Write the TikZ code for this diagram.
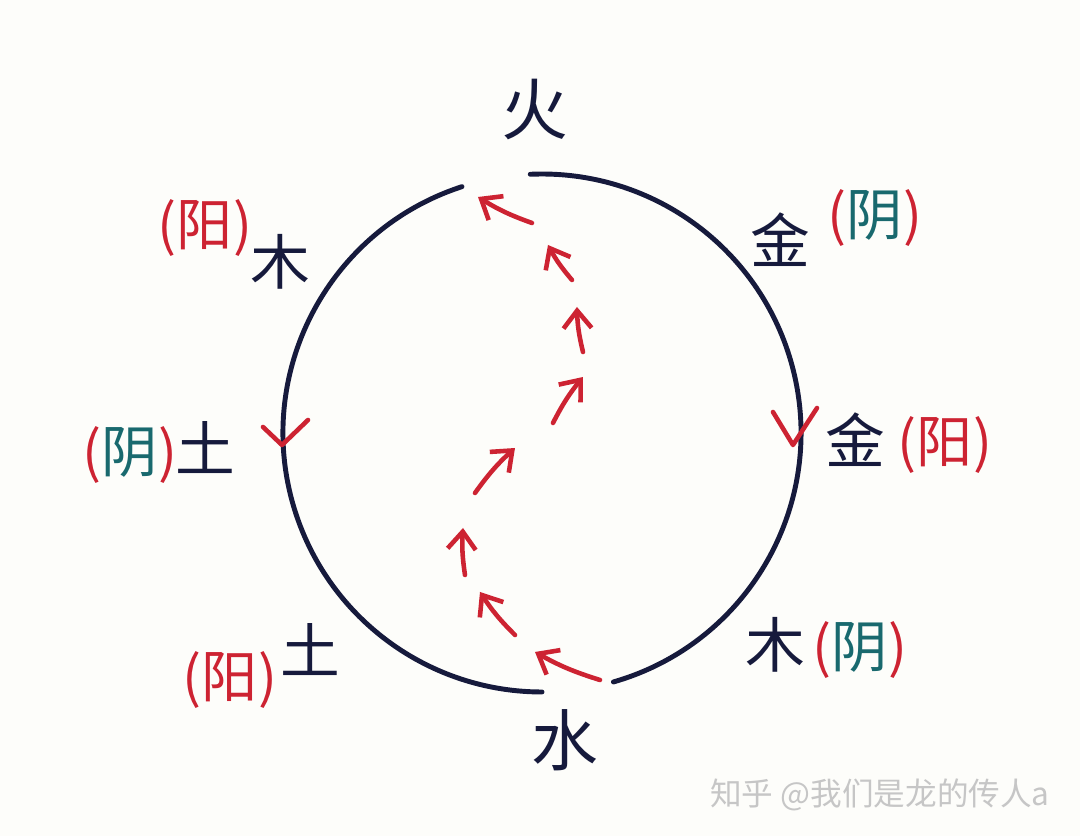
\documentclass[tikz,border=0pt]{standalone}
\usepackage{fontspec}
\setmainfont{Noto Sans CJK SC}
\usetikzlibrary{arrows.meta}
\definecolor{ink}{RGB}{22,26,60}
\definecolor{redink}{RGB}{205,35,50}
\definecolor{tealink}{RGB}{25,105,110}
\definecolor{paper}{RGB}{253,253,250}

\begin{document}
\begin{tikzpicture}[x=0.1mm, y=0.1mm, >={Straight Barb[length=5pt,width=8pt]},
  elem/.style={text=ink, font=\fontsize{17}{17}\selectfont},
  bigelem/.style={text=ink, font=\fontsize{19}{19}\selectfont},
  tag/.style={text=redink, font=\fontsize{16}{16}\selectfont},
  ring/.style={draw=ink, line width=1.4pt, line cap=round},
  flow/.style={draw=redink, line width=1.3pt, line cap=round},
  vee/.style={draw=redink, line width=1.3pt, line cap=round, line join=round}]
  \fill[paper] (0,0) rectangle (1080,836);
  \useasboundingbox (0,0) rectangle (1080,836);

  % the circle, open at the top and at the bottom
  \coordinate (c) at (542,403);
  \draw[ring] (c) ++(108:259) arc (108:270:259);
  \draw[ring] (c) ++(-74:259) arc (-74:92.6:259);
  \draw[vee] (263,409) -- (282,391) -- (308,416);
  \draw[vee] (773,424) -- (793,391) -- (817,428);

  % red arrows from water up to fire
  \foreach \tx/\ty/\hx/\hy in {600/156/535/184, 515/201/480/244, 465/261/463/308,
      475/343/515/388, 553/413/583/459, 583/484/577/529, 572/556/548/591, 532/613/478/639}
    \draw[flow, ->] (\tx,\ty) to[bend left=6] (\hx,\hy);

  % elements
  \node[bigelem] (fire) at (535,726) {火};
  \node[bigelem] (water) at (565,96) {水};
  \node[elem] (metalA) at (780,596) {金};
  \node[elem] (metalB) at (855,396) {金};
  \node[elem] (woodA) at (280,574) {木};
  \node[elem] (woodB) at (775,191) {木};
  \node[elem] (earthA) at (205,388) {土};
  \node[elem] (earthB) at (310,186) {土};

  % yin / yang tags
  \node[tag] (yinA) at (875,618) {(\textcolor{tealink}{阴})};
  \node[tag] (yinB) at (130,381) {(\textcolor{tealink}{阴})};
  \node[tag] (yinC) at (860,186) {(\textcolor{tealink}{阴})};
  \node[tag] (yangA) at (205,608) {(阳)};
  \node[tag] (yangB) at (945,391) {(阳)};
  \node[tag] (yangC) at (230,156) {(阳)};

  \node[text=gray!45, font=\fontsize{9}{9}\selectfont] (mark) at (880,41) {知乎 @我们是龙的传人a};
\end{tikzpicture}
\end{document}
